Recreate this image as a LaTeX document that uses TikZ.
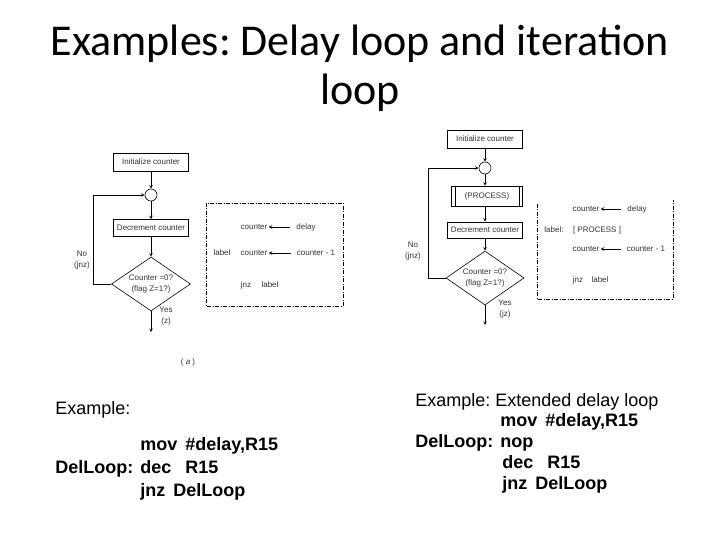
\documentclass[tikz,border=0pt]{standalone}
\usepackage{fontspec}
\setmainfont{Liberation Sans}
\newfontfamily\titlefont{Carlito}
\usetikzlibrary{shapes.geometric}
\frenchspacing
\begin{document}
\begin{tikzpicture}[x=1pt,y=-1pt,>=stealth,line width=0.6pt,
  box/.style={draw,minimum width=75pt,minimum height=18pt,inner sep=0pt},
  junction/.style={draw,circle,minimum size=12pt,inner sep=0pt},
  test/.style={draw,diamond,aspect=1.5,minimum width=79pt,minimum height=54pt,inner sep=0pt,align=center},
  txt/.style={inner sep=1pt,text height=6pt,text depth=1.5pt},
  frame/.style={dash pattern=on 4pt off 1.5pt on 1pt off 1.5pt},
  flow/.style={font=\fontsize{8}{10.5}\selectfont,text=black!80},
  code/.style={anchor=base west,inner sep=0pt,font=\fontsize{18}{22}\selectfont\bfseries}]
\useasboundingbox (0,0) rectangle (720,540);
\node[anchor=base,inner sep=0pt,font=\titlefont\fontsize{44}{44}\selectfont] (title1) at (360,56) {Examples: Delay loop and iteration};
\node[anchor=base,inner sep=0pt,font=\titlefont\fontsize{44}{44}\selectfont] (title2) at (360,105) {loop};
\begin{scope}[flow]
\node[box] (initL) at (151,162) {Initialize counter};
\node[junction] (joinL) at (151,195) {};
\node[box,minimum height=17pt] (decL) at (151,228) {Decrement counter};
\node[test] (testL) at (151,284) {Counter =0?\\(flag Z=1?)};
\coordinate (endL) at (151,332);
\draw[->] (initL) -- (joinL);
\draw[->] (joinL) -- (decL);
\draw[->] (decL) -- (testL);
\draw[->] (testL) -- (endL);
\draw[->] (testL.west) -- ++(-18,0) |- (joinL.west);
\node[align=center,inner sep=0pt] (noL) at (82,260) {No\\(jnz)};
\node[align=center,inner sep=0pt] (yesL) at (166,316) {Yes\\(z)};
\node (capL) at (188,362) {( \textit{a} )};
\draw[frame] (206,203) rectangle (343,306);
\node[txt] (cntL1) at (254,227) {counter};
\node[txt] (dlyL) at (306,227) {delay};
\node[txt] (labL) at (222,253) {label};
\node[txt] (cntL2) at (254,253) {counter};
\node[txt] (decrL) at (316,253) {counter - 1};
\node[txt] (jnzL) at (246,285) {jnz};
\node[txt] (jlabL) at (270,285) {label};
\draw[->] ([xshift=-5pt]dlyL.west) -- (cntL1.east);
\draw[->] ([xshift=-5pt]decrL.west) -- (cntL2.east);

\node[box] (initR) at (485,139) {Initialize counter};
\node[junction] (joinR) at (485,168) {};
\node[box,minimum width=71pt,minimum height=20pt] (procR) at (487,196) {(PROCESS)};
\draw ([xshift=4pt]procR.north west) -- ([xshift=4pt]procR.south west)
      ([xshift=-4pt]procR.north east) -- ([xshift=-4pt]procR.south east);
\node[box,minimum height=16pt] (decR) at (485,230) {Decrement counter};
\node[test,minimum width=78pt] (testR) at (485,278) {Counter =0?\\(flag Z=1?)};
\coordinate (endR) at (485,325);
\draw[->] (initR) -- (joinR);
\draw[->] (joinR) -- (joinR |- procR.north);
\draw[->] (joinR |- procR.south) -- (decR);
\draw[->] (decR) -- (testR);
\draw[->] (testR) -- (endR);
\draw[->] (testR.west) -- ++(-17,0) |- (joinR.west);
\node[align=center,inner sep=0pt] (noR) at (413,251) {No\\(jnz)};
\node[align=center,inner sep=0pt] (yesR) at (505,309) {Yes\\(jz)};
\draw[frame] (537,204) -- (537,299) -- (673,299) -- (673,200);
\node[txt] (cntR1) at (586,209) {counter};
\node[txt] (dlyR) at (637,209) {delay};
\node[txt] (labR) at (554,230) {label:};
\node[txt] (procR2) at (597,230) {[ PROCESS ]};
\node[txt] (cntR2) at (586,249) {counter};
\node[txt] (decrR) at (646,249) {counter - 1};
\node[txt] (jnzR) at (578,280) {jnz};
\node[txt] (jlabR) at (600,280) {label};
\draw[->] ([xshift=-5pt]dlyR.west) -- (cntR1.east);
\draw[->] ([xshift=-5pt]decrR.west) -- (cntR2.east);
\end{scope}
\node[code,font=\fontsize{18}{22}\selectfont] (exL) at (55,414) {Example:};
\node[code] (movL) at (140,450) {mov\hspace{8pt}\#delay,R15};
\node[code] (loopL) at (55,473) {DelLoop:\hspace{7pt}dec\hspace{14pt}R15};
\node[code] (jnzL2) at (140,496) {jnz\hspace{8pt}DelLoop};
\node[code,font=\fontsize{18}{22}\selectfont] (exR) at (415,406) {Example: Extended delay loop};
\node[code] (movR) at (500,426) {mov\hspace{8pt}\#delay,R15};
\node[code] (loopR) at (415,447) {DelLoop:\hspace{7pt}nop};
\node[code] (decR2) at (502,468) {dec\hspace{14pt}R15};
\node[code] (jnzR2) at (502,489) {jnz\hspace{8pt}DelLoop};
\end{tikzpicture}
\end{document}
